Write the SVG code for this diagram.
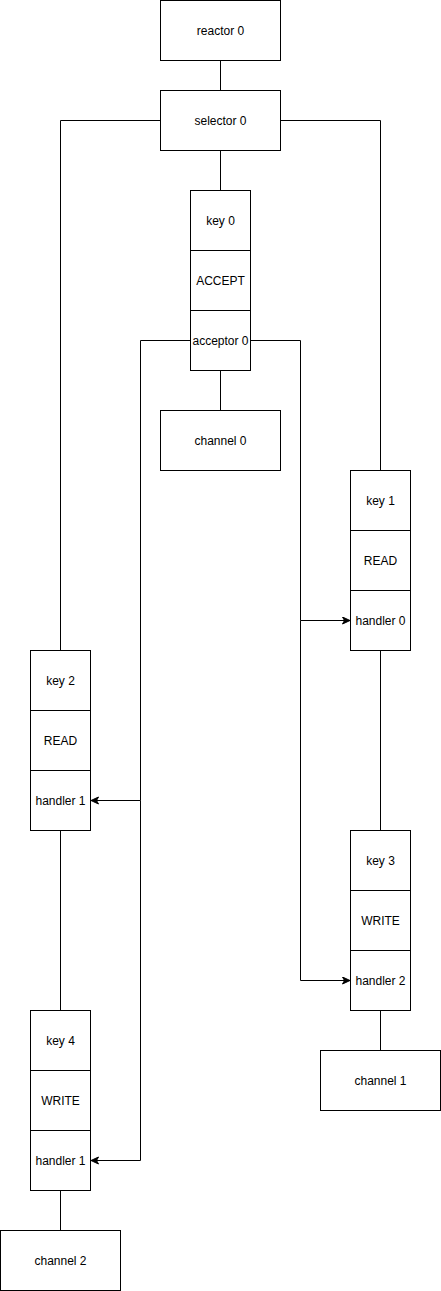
<svg xmlns="http://www.w3.org/2000/svg" width="441" height="1291" viewBox="0 0 441 1291">
<style>
.b{fill:#fff;stroke:#000;stroke-width:1}
.t{font-family:"Liberation Sans",Arial,Helvetica,sans-serif;font-size:12px;fill:#000;text-anchor:middle;dominant-baseline:central}
.c{fill:none;stroke:#000;stroke-width:1}
</style>
<defs>
<marker id="ar" markerWidth="10" markerHeight="10" refX="8" refY="4" orient="auto" markerUnits="userSpaceOnUse">
<path d="M0.5,0.5 L8,4 L0.5,7.5 L2.5,4 Z" fill="#000" stroke="#000" stroke-width="1"/>
</marker>
</defs>
<rect width="441" height="1291" fill="#fff"/>
<g id="connectors">
<path class="c" d="M220.5,60.5 V90.5"/>
<path class="c" d="M160.5,120.5 H60.5 V650.5"/>
<path class="c" d="M280.5,120.5 H380.5 V470.5"/>
<path class="c" d="M220.5,150.5 V190.5"/>
<path class="c" d="M220.5,370.5 V410.5"/>
<path class="c" d="M190.5,340.5 H140.5 V800.5 H91" marker-end="url(#ar)"/>
<path class="c" d="M140.5,800.5 V1160.5 H91" marker-end="url(#ar)"/>
<path class="c" d="M250.5,340.5 H300.5 V620.5 H350" marker-end="url(#ar)"/>
<path class="c" d="M300.5,620.5 V980.5 H350" marker-end="url(#ar)"/>
<path class="c" d="M380.5,650.5 V830.5"/>
<path class="c" d="M380.5,1010.5 V1050.5"/>
<path class="c" d="M60.5,830.5 V1010.5"/>
<path class="c" d="M60.5,1190.5 V1230.5"/>
</g>
<g id="reactor0"><rect class="b" x="160.5" y="0.5" width="120" height="60"/><text class="t" x="220.5" y="30.5">reactor 0</text></g>
<g id="selector0"><rect class="b" x="160.5" y="90.5" width="120" height="60"/><text class="t" x="220.5" y="120.5">selector 0</text></g>
<g id="key0"><rect class="b" x="190.5" y="190.5" width="60" height="60"/><text class="t" x="220.5" y="220.5">key 0</text></g>
<g id="accept0"><rect class="b" x="190.5" y="250.5" width="60" height="60"/><text class="t" x="220.5" y="280.5">ACCEPT</text></g>
<g id="acceptor0"><rect class="b" x="190.5" y="310.5" width="60" height="60"/><text class="t" x="220.5" y="340.5">acceptor 0</text></g>
<g id="channel0"><rect class="b" x="160.5" y="410.5" width="120" height="60"/><text class="t" x="220.5" y="440.5">channel 0</text></g>
<g id="key1"><rect class="b" x="350.5" y="470.5" width="60" height="60"/><text class="t" x="380.5" y="500.5">key 1</text></g>
<g id="read1"><rect class="b" x="350.5" y="530.5" width="60" height="60"/><text class="t" x="380.5" y="560.5">READ</text></g>
<g id="handler0"><rect class="b" x="350.5" y="590.5" width="60" height="60"/><text class="t" x="380.5" y="620.5">handler 0</text></g>
<g id="key2"><rect class="b" x="30.5" y="650.5" width="60" height="60"/><text class="t" x="60.5" y="680.5">key 2</text></g>
<g id="read2"><rect class="b" x="30.5" y="710.5" width="60" height="60"/><text class="t" x="60.5" y="740.5">READ</text></g>
<g id="handler1a"><rect class="b" x="30.5" y="770.5" width="60" height="60"/><text class="t" x="60.5" y="800.5">handler 1</text></g>
<g id="key3"><rect class="b" x="350.5" y="830.5" width="60" height="60"/><text class="t" x="380.5" y="860.5">key 3</text></g>
<g id="write3"><rect class="b" x="350.5" y="890.5" width="60" height="60"/><text class="t" x="380.5" y="920.5">WRITE</text></g>
<g id="handler2"><rect class="b" x="350.5" y="950.5" width="60" height="60"/><text class="t" x="380.5" y="980.5">handler 2</text></g>
<g id="channel1"><rect class="b" x="320.5" y="1050.5" width="120" height="60"/><text class="t" x="380.5" y="1080.5">channel 1</text></g>
<g id="key4"><rect class="b" x="30.5" y="1010.5" width="60" height="60"/><text class="t" x="60.5" y="1040.5">key 4</text></g>
<g id="write4"><rect class="b" x="30.5" y="1070.5" width="60" height="60"/><text class="t" x="60.5" y="1100.5">WRITE</text></g>
<g id="handler1b"><rect class="b" x="30.5" y="1130.5" width="60" height="60"/><text class="t" x="60.5" y="1160.5">handler 1</text></g>
<g id="channel2"><rect class="b" x="0.5" y="1230.5" width="120" height="60"/><text class="t" x="60.5" y="1260.5">channel 2</text></g>
</svg>
